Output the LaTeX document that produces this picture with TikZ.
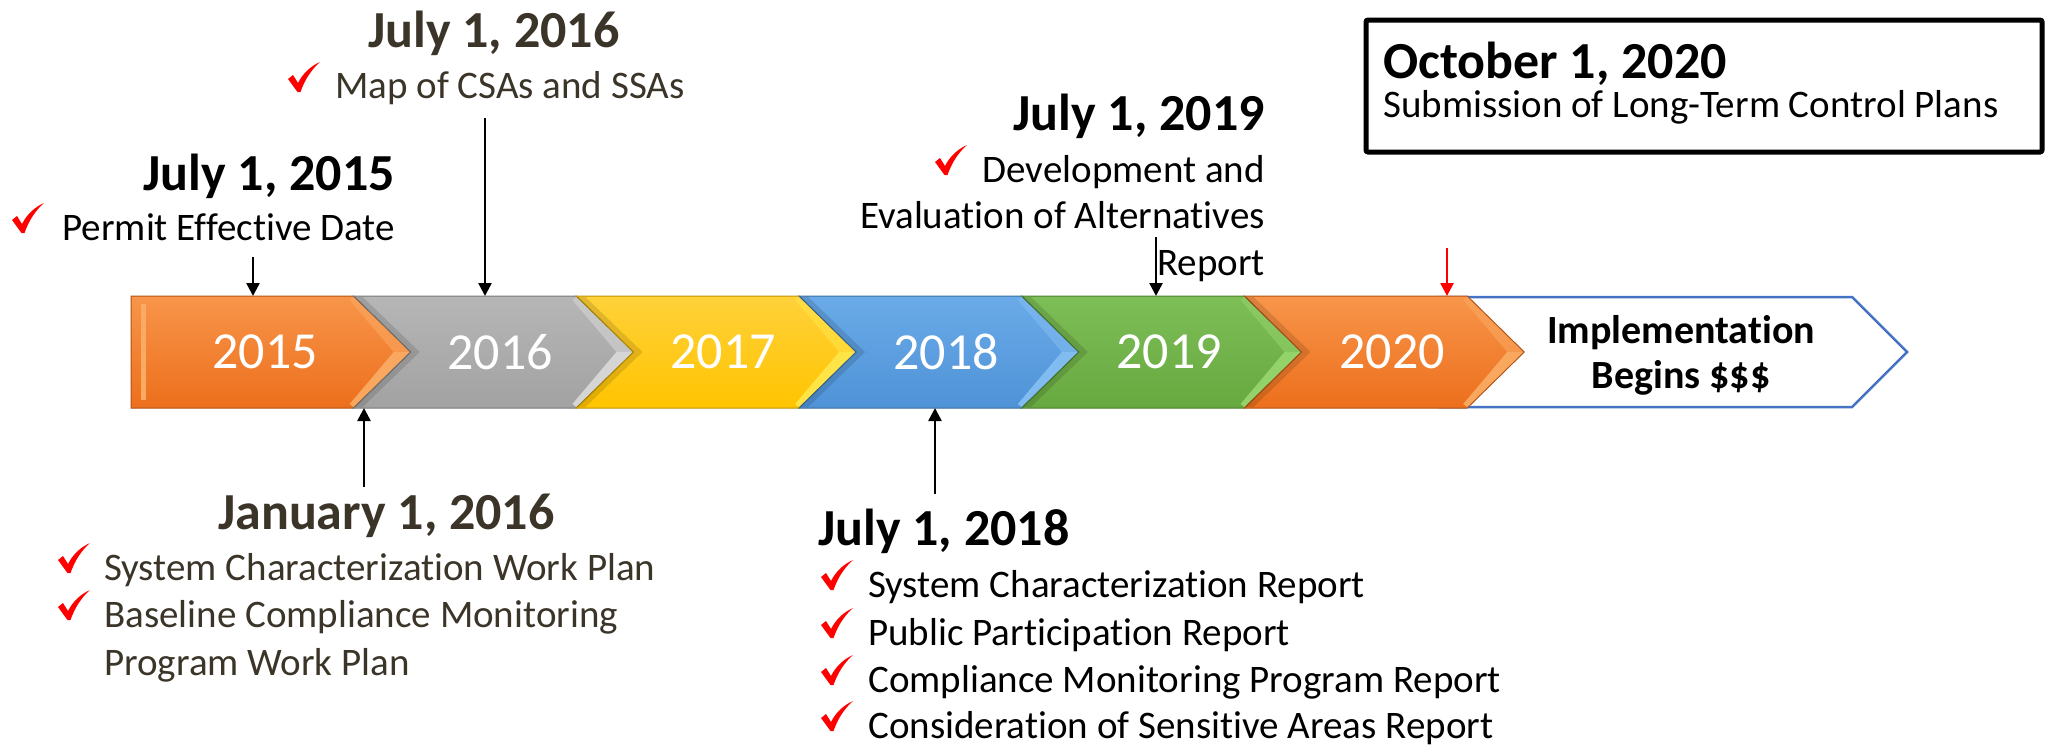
\documentclass[tikz,border=0pt]{standalone}
\usepackage{fontspec}
\setmainfont[Ligatures={NoCommon,NoContextual}]{Carlito}
\usetikzlibrary{arrows.meta}
\definecolor{brn}{HTML}{3B3428}
\definecolor{chkred}{HTML}{FF0000}
\definecolor{implblue}{HTML}{4472C4}
\definecolor{orngtop}{HTML}{F8954A}
\definecolor{orngbot}{HTML}{EC6F1C}
\definecolor{ornghi}{HTML}{FBAA62}
\definecolor{grytop}{HTML}{B6B6B6}
\definecolor{grybot}{HTML}{A2A2A2}
\definecolor{gryhi}{HTML}{D8D8D8}
\definecolor{ylwtop}{HTML}{FFD13A}
\definecolor{ylwbot}{HTML}{FFC400}
\definecolor{ylwhi}{HTML}{FFE64A}
\definecolor{blutop}{HTML}{6AAAE8}
\definecolor{blubot}{HTML}{4F93D7}
\definecolor{bluhi}{HTML}{84BEF2}
\definecolor{grntop}{HTML}{7DBE57}
\definecolor{grnbot}{HTML}{67A83F}
\definecolor{grnhi}{HTML}{96D46C}
\tikzset{
  datetxt/.style={font=\fontsize{52}{60}\selectfont\bfseries, inner sep=0pt},
  itemtxt/.style={font=\fontsize{39}{47}\selectfont, inner sep=0pt},
  yeartxt/.style={font=\fontsize{52}{60}\selectfont, text=white, inner sep=0pt},
  impltxt/.style={font=\fontsize{40}{46}\selectfont\bfseries, inner sep=0pt, anchor=base},
  marker/.style={line width=2.5pt, -{Triangle[width=13pt,length=13pt]}},
  redcheck/.pic={\fill[chkred] (0,17) -- (5,13) -- (10,21) .. controls (15,11) and (23,4) .. (32,0) .. controls (24,7) and (17,17) .. (12.5,30) -- (9.5,30) -- cycle;}
}
\begin{document}
\begin{tikzpicture}[x=1pt,y=-1pt]
\useasboundingbox[fill=white] (0,0) rectangle (2049,747);

% implementation arrow
\draw[implblue, line width=2.5pt, fill=white] (1440,297) -- (1852,297) -- (1907,352) -- (1852,407) -- (1440,407) -- cycle;

% year segments
\foreach \i/\c in {0/orng,1/gry,2/ylw,3/blu,4/grn,5/orng}{
  \pgfmathsetmacro\L{131+222.7*\i}
  \pgfmathsetmacro\R{\L+222.7}
  \pgfmathsetmacro\T{\R+57}
  \pgfmathsetmacro\N{\i==0 ? \L : \L+57}
  \path[top color=\c top, bottom color=\c bot, draw=\c bot!75!black, line width=1pt]
    (\L,296) -- (\R,296) -- (\T,352) -- (\R,408) -- (\L,408) -- (\N,352) -- cycle;
  % bevel: upper diagonal (softer) and lower diagonal (lighter)
  \fill[\c hi, opacity=0.55] (\R-4,300) -- (\R,297) -- (\T-1,352) -- (\T-17,352) -- cycle;
  \fill[\c hi, opacity=0.95] (\T-17,352) -- (\T-1,352) -- (\R,407) -- (\R-4,404) -- cycle;
  \ifnum\i>0
    \fill[black, opacity=0.12] (\L,297) -- (\L+9,297) -- (\N+9,352) -- (\L+9,407) -- (\L,407) -- (\N,352) -- cycle;
  \fi
}
\fill[ornghi] (141,304) rectangle (146,400);

% year labels
\node[yeartxt] (y2015) at (265,352) {2015};
\node[yeartxt] (y2016) at (500,352) {2016};
\node[yeartxt] (y2017) at (723,352) {2017};
\node[yeartxt] (y2018) at (946,352) {2018};
\node[yeartxt] (y2019) at (1169,352) {2019};
\node[yeartxt] (y2020) at (1392,352) {2020};
\node[impltxt] (impl1) at (1681,343) {Implementation};
\node[impltxt] (impl2) at (1681,388) {Begins \$\$\$};

% July 1, 2015
\node[datetxt, anchor=base east] (d15) at (395,190) {July 1, 2015};
\pic at (12,203) {redcheck};
\node[itemtxt, anchor=base east] (t15) at (395,240) {Permit Effective Date};

% July 1, 2016
\node[datetxt, anchor=base west, text=brn] (d16) at (368,47) {July 1, 2016};
\pic at (288,62) {redcheck};
\node[itemtxt, anchor=base west, text=brn] (t16) at (335,98) {Map of CSAs and SSAs};

% July 1, 2019
\node[datetxt, anchor=base east] (d19) at (1265,130) {July 1, 2019};
\pic at (935,145) {redcheck};
\node[itemtxt, anchor=base east] (t19a) at (1265,182) {Development and};
\node[itemtxt, anchor=base east] (t19b) at (1265,228) {Evaluation of Alternatives};
\node[itemtxt, anchor=base east] (t19c) at (1265,275) {Report};

% October 1, 2020
\draw[line width=5pt, rounded corners=2pt] (1366,20) rectangle (2042,152);
\node[datetxt, anchor=base west] (d20) at (1383,78) {October 1, 2020};
\node[itemtxt, anchor=base west] (t20) at (1383,117) {Submission of Long-Term Control Plans};

% January 1, 2016
\node[datetxt, anchor=base west, text=brn] (dj16) at (218,529) {January 1, 2016};
\pic at (58,543) {redcheck};
\node[itemtxt, anchor=base west, text=brn] (tj1) at (104,580) {System Characterization Work Plan};
\pic at (58,590) {redcheck};
\node[itemtxt, anchor=base west, text=brn] (tj2) at (104,627) {Baseline Compliance Monitoring};
\node[itemtxt, anchor=base west, text=brn] (tj3) at (104,675) {Program Work Plan};

% July 1, 2018
\node[datetxt, anchor=base west] (d18) at (818,545) {July 1, 2018};
\pic at (821,560) {redcheck};
\node[itemtxt, anchor=base west] (t18a) at (868,597) {System Characterization Report};
\pic at (821,608) {redcheck};
\node[itemtxt, anchor=base west] (t18b) at (868,645) {Public Participation Report};
\pic at (821,655) {redcheck};
\node[itemtxt, anchor=base west] (t18c) at (868,692) {Compliance Monitoring Program Report};
\pic at (821,701) {redcheck};
\node[itemtxt, anchor=base west] (t18d) at (868,738) {Consideration of Sensitive Areas Report};

% arrows
\coordinate (a15s) at (253,257); \coordinate (a15e) at (253,296);
\coordinate (a16s) at (485,118); \coordinate (a16e) at (485,296);
\coordinate (a19s) at (1156,237); \coordinate (a19e) at (1156,296);
\coordinate (a20s) at (1447,248); \coordinate (a20e) at (1447,296);
\coordinate (aj6s) at (364,487); \coordinate (aj6e) at (364,408);
\coordinate (a18s) at (935,494); \coordinate (a18e) at (935,408);
\draw[marker] (a15s) -- (a15e);
\draw[marker] (a16s) -- (a16e);
\draw[marker] (a19s) -- (a19e);
\draw[marker, chkred] (a20s) -- (a20e);
\draw[marker] (aj6s) -- (aj6e);
\draw[marker] (a18s) -- (a18e);
\end{tikzpicture}
\end{document}
